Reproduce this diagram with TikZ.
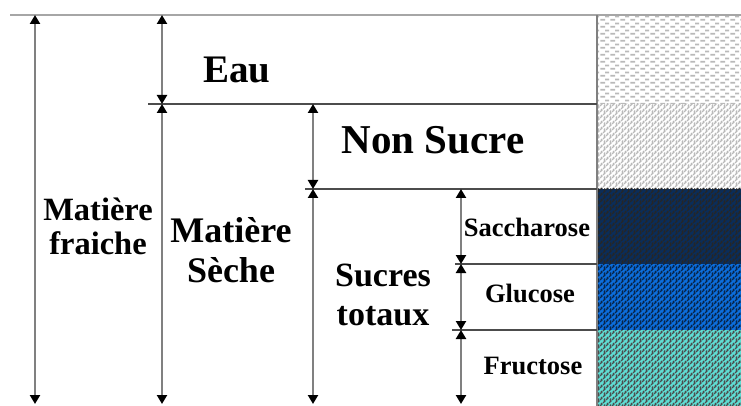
\documentclass[tikz,border=0pt]{standalone}
\usepackage{fontspec}
\setmainfont{Liberation Serif}
\usetikzlibrary{arrows.meta,patterns}
\definecolor{sacch}{RGB}{10,45,90}
\definecolor{gluc}{RGB}{12,110,220}
\definecolor{fruct}{RGB}{95,222,212}
\pgfdeclarepatternformonly{eaudash}{\pgfqpoint{0pt}{0pt}}{\pgfqpoint{10pt}{7pt}}{\pgfqpoint{10pt}{7pt}}{%
  \pgfsetlinewidth{2pt}%
  \pgfpathmoveto{\pgfqpoint{0.5pt}{1.5pt}}\pgfpathlineto{\pgfqpoint{5.5pt}{1.5pt}}%
  \pgfpathmoveto{\pgfqpoint{5.5pt}{5pt}}\pgfpathlineto{\pgfqpoint{10pt}{5pt}}%
  \pgfusepath{stroke}}
\pgfdeclarepatternformonly{grain}{\pgfqpoint{-1pt}{-1pt}}{\pgfqpoint{7pt}{7pt}}{\pgfqpoint{6pt}{6pt}}{%
  \pgfsetlinewidth{1.1pt}%
  \pgfpathmoveto{\pgfqpoint{0pt}{0pt}}\pgfpathlineto{\pgfqpoint{2pt}{2pt}}\pgfpathlineto{\pgfqpoint{1pt}{3pt}}%
  \pgfpathmoveto{\pgfqpoint{3pt}{3pt}}\pgfpathlineto{\pgfqpoint{5pt}{5pt}}\pgfpathlineto{\pgfqpoint{4pt}{6pt}}%
  \pgfpathmoveto{\pgfqpoint{4pt}{0pt}}\pgfpathlineto{\pgfqpoint{5pt}{1.5pt}}%
  \pgfusepath{stroke}}
\tikzset{
  cote/.style={{Triangle[width=10pt,length=9pt,color=black]}-{Triangle[width=10pt,length=9pt,color=black]},draw=gray,line width=2.3pt},
  sep/.style={draw=black!70,line width=1.5pt},
  grand/.style={font=\bfseries\fontsize{39}{40}\selectfont},
  moyen/.style={font=\bfseries\fontsize{36}{40}\selectfont,align=center},
  petit/.style={font=\bfseries\fontsize{26.5}{28}\selectfont}
}
\begin{document}
\begin{tikzpicture}[x=1pt,y=-1pt]
\useasboundingbox (0,0) rectangle (741,406);
                % colonne de droite
                \fill [pattern=eaudash,pattern color=gray!55](598,16) rectangle (741,104);
                \fill [pattern=grain,pattern color=gray!55](598,104) rectangle (741,189);
                \fill [sacch](598,189) rectangle (741,264);
                \fill [pattern=grain,pattern color=black!85](598,189) rectangle (741,264);
                \fill [gluc](598,264) rectangle (741,330);
                \fill [pattern=grain,pattern color=sacch!80!black](598,264) rectangle (741,330);
                \fill [fruct](598,330) rectangle (741,406);
                \fill [pattern=grain,pattern color=black!70](598,330) rectangle (741,406);
                \draw [draw=gray!70,line width=2.2pt](10,15)--(741,15);
                \draw [draw=gray,line width=2pt](597,15)--(597,406);
                \draw [sep](148,104)--(597,104);
                \draw [sep](305,189)--(597,189);
                \draw [sep](455,264)--(597,264);
                \draw [sep](452,330)--(597,330);
                % cotes
                \coordinate (mf-t) at (35,15);
                \coordinate (mf-b) at (35,404);
                \coordinate (ms-t) at (162,15);
                \coordinate (ms-m) at (162,104);
                \coordinate (ms-b) at (162,404);
                \coordinate (ns-t) at (313,104);
                \coordinate (ns-m) at (313,189);
                \coordinate (ns-b) at (313,404);
                \coordinate (su-t) at (461,189);
                \coordinate (su-m) at (461,264);
                \coordinate (su-n) at (461,330);
                \coordinate (su-b) at (461,404);
                \draw [cote](mf-t)--(mf-b);
                \draw [cote](ms-t)--(ms-m);
                \draw [cote](ms-m)--(ms-b);
                \draw [cote](ns-t)--(ns-m);
                \draw [cote](ns-m)--(ns-b);
                \draw [cote](su-t)--(su-m);
                \draw [cote](su-m)--(su-n);
                \draw [cote](su-n)--(su-b);
                % textes
                \node [grand] (eau) at (237,70) {Eau};
                \node [grand,font=\bfseries\fontsize{41}{42}\selectfont] (nonsucre) at (433,140) {Non Sucre};
                \node [moyen,font=\bfseries\fontsize{32.5}{34}\selectfont] (fraiche) at (98,226) {Matière\\fraiche};
                \node [moyen] (seche) at (231,250) {Matière\\Sèche};
                \node [moyen,font=\bfseries\fontsize{34}{39}\selectfont] (sucres) at (383,295) {Sucres\\totaux};
                \node [petit] (sacc) at (527,227) {Saccharose};
                \node [petit] (gluc) at (530,293) {Glucose};
                \node [petit] (fruc) at (533,366) {Fructose};
\end{tikzpicture}
\end{document}
